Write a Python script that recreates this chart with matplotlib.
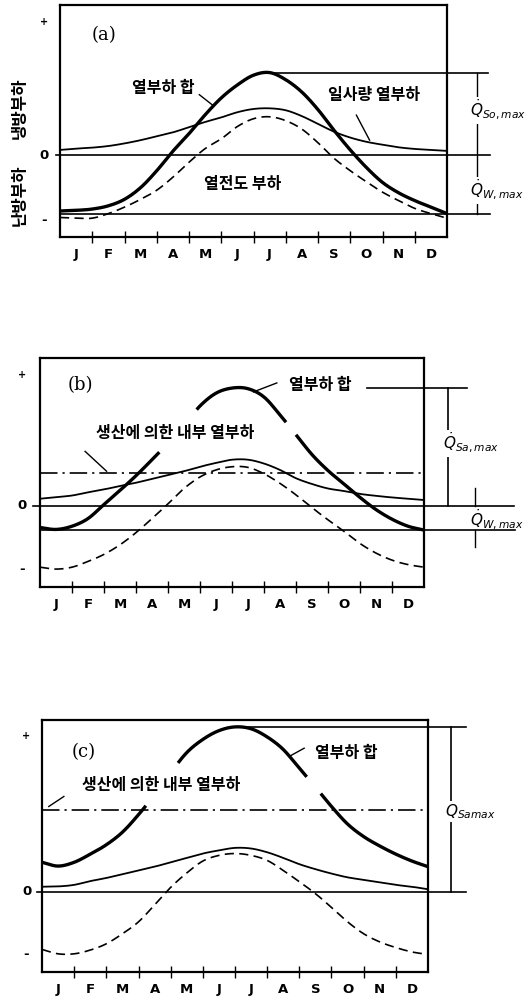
import numpy as np
import matplotlib
matplotlib.use('Agg')
import matplotlib.pyplot as plt

plt.rcParams['font.family'] = ['Noto Sans CJK KR', 'DejaVu Sans']

# ---------------- data (arbitrary load units; month index 0=J ... 11=D) -----
months = ['J', 'F', 'M', 'A', 'M', 'J', 'J', 'A', 'S', 'O', 'N', 'D']
x_pts = [-0.5, 0.0, 0.5, 1.0, 1.5, 2.0, 2.5, 3.0, 3.5, 4.0, 4.5, 5.0, 5.5,
         6.0, 6.5, 7.0, 7.5, 8.0, 8.5, 9.0, 9.5, 10.0, 10.5, 11.0, 11.5]

# panel (a)
a_solar = [0.08, 0.10, 0.115, 0.14, 0.18, 0.23, 0.29, 0.35, 0.43, 0.51, 0.58, 0.66, 0.71,
           0.72, 0.69, 0.60, 0.48, 0.36, 0.27, 0.205, 0.16, 0.12, 0.095, 0.08, 0.065]
a_total = [-0.86, -0.85, -0.83, -0.78, -0.68, -0.50, -0.24, 0.06, 0.33, 0.62, 0.88, 1.08, 1.23,
           1.27, 1.16, 0.97, 0.70, 0.38, 0.08, -0.19, -0.42, -0.58, -0.70, -0.80, -0.90]
a_cond = [-0.96, -0.97, -0.97, -0.90, -0.80, -0.68, -0.54, -0.34, -0.11, 0.10, 0.25, 0.44, 0.56,
          0.59, 0.53, 0.40, 0.19, -0.05, -0.24, -0.41, -0.57, -0.70, -0.82, -0.90, -0.97]
a_heat_max = -0.90

# panel (b)
b_solar = [0.11, 0.135, 0.16, 0.21, 0.255, 0.31, 0.36, 0.42, 0.48, 0.54, 0.61, 0.67, 0.72,
           0.72, 0.66, 0.56, 0.43, 0.34, 0.27, 0.23, 0.185, 0.155, 0.13, 0.11, 0.09]
b_total = [-0.34, -0.37, -0.32, -0.20, 0.02, 0.24, 0.47, 0.72, 0.98, 1.26, 1.56, 1.76, 1.84,
           1.83, 1.70, 1.42, 1.11, 0.80, 0.55, 0.34, 0.13, -0.06, -0.21, -0.32, -0.38]
b_cond = [-0.96, -0.99, -0.96, -0.87, -0.76, -0.61, -0.42, -0.20, 0.03, 0.27, 0.45, 0.56, 0.61,
          0.60, 0.50, 0.35, 0.17, -0.03, -0.22, -0.40, -0.59, -0.74, -0.85, -0.92, -0.96]
b_internal = 0.52
b_heat_max = -0.38

# panel (c)
c_solar = [0.08, 0.085, 0.11, 0.17, 0.22, 0.28, 0.34, 0.40, 0.47, 0.54, 0.61, 0.66, 0.70,
           0.69, 0.63, 0.54, 0.44, 0.36, 0.29, 0.23, 0.19, 0.15, 0.11, 0.08, 0.04]
c_total = [0.47, 0.41, 0.47, 0.60, 0.75, 0.95, 1.23, 1.55, 1.90, 2.22, 2.43, 2.57, 2.63,
           2.60, 2.47, 2.27, 1.97, 1.67, 1.36, 1.08, 0.88, 0.73, 0.60, 0.49, 0.40]
c_cond = [-0.92, -0.99, -0.99, -0.93, -0.83, -0.67, -0.48, -0.21, 0.07, 0.30, 0.49, 0.58, 0.61,
          0.58, 0.50, 0.34, 0.16, -0.03, -0.25, -0.48, -0.67, -0.80, -0.89, -0.96, -1.00]
c_internal = 1.31

W, H = 525, 998
fig = plt.figure(figsize=(W / 100, H / 100), dpi=100)


def rect(l, t, r, b):
    return [l / W, 1 - b / H, (r - l) / W, (b - t) / H]


LW_THICK = 2.4
LW_THIN = 1.3
KFONT = dict(fontsize=11.5, fontweight='bold', color='black')
DASH = (0, (5.5, 3.2))
DASHDOT = (0, (10.5, 3, 1.3, 3))


def smooth(xs, ys, n=24):
    """Draw-time cubic Hermite (Catmull-Rom) curve through the read points."""
    xs = np.asarray(xs, float)
    ys = np.asarray(ys, float)
    m = np.empty_like(ys)
    m[1:-1] = (ys[2:] - ys[:-2]) / (xs[2:] - xs[:-2])
    m[0] = (ys[1] - ys[0]) / (xs[1] - xs[0])
    m[-1] = (ys[-1] - ys[-2]) / (xs[-1] - xs[-2])
    outx, outy = [], []
    for i in range(len(xs) - 1):
        h = xs[i + 1] - xs[i]
        t = np.linspace(0, 1, n, endpoint=(i == len(xs) - 2))
        h00 = 2 * t**3 - 3 * t**2 + 1
        h10 = t**3 - 2 * t**2 + t
        h01 = -2 * t**3 + 3 * t**2
        h11 = t**3 - t**2
        outx.append(xs[i] + t * h)
        outy.append(h00 * ys[i] + h10 * h * m[i] + h01 * ys[i + 1] + h11 * h * m[i + 1])
    return np.concatenate(outx), np.concatenate(outy)


def base_axes(r, ylim, yplus, pad_x):
    ax = fig.add_axes(r)
    ax.set_xlim(-0.5, 11.5)
    ax.set_ylim(*ylim)
    for s in ax.spines.values():
        s.set_linewidth(1.6)
    ax.set_xticks(np.arange(0.5, 11, 1.0))
    ax.set_xticklabels([])
    ax.tick_params(axis='x', which='major', direction='inout', length=8, width=1.0)
    ax.set_xticks(np.arange(0, 12), minor=True)
    ax.set_xticklabels(months, minor=True, fontsize=9.5, fontweight='bold',
                       family='DejaVu Sans')
    ax.tick_params(axis='x', which='minor', length=0, pad=8)
    ax.set_yticks([])
    for yv, lab, fs in [(yplus, '+', 7), (0, '0', 9.5), (-1, '-', 9.5)]:
        ax.text(pad_x, yv, lab, ha='center', va='center', fontsize=fs,
                fontweight='bold', family='DejaVu Sans')
    return ax


def curves(ax, solar, cond, total, gaps=()):
    sx, sy = smooth(x_pts, solar)
    ax.plot(sx, sy, color='black', lw=LW_THIN, zorder=3)
    dx, dy = smooth(x_pts, cond)
    ax.plot(dx, dy, color='black', lw=1.2, linestyle=DASH, zorder=3)
    tx, ty = smooth(x_pts, total)
    ty = ty.copy()
    for g0, g1 in gaps:
        ty[(tx > g0) & (tx < g1)] = np.nan
    ax.plot(tx, ty, color='black', lw=LW_THICK, solid_capstyle='butt', zorder=4)


def line(ax, xs, ys, lw=1.0, **kw):
    ax.plot(xs, ys, color='black', lw=lw, clip_on=False, zorder=3, **kw)


# ---------------- panel (a) ----------------
ax = base_axes(rect(60, 5, 447, 237), (-1.26, 2.31), 2.05, -0.99)
curves(ax, a_solar, a_cond, a_total)
pk = int(np.argmax(a_total))
qso = a_total[pk]
line(ax, [-0.62, 12.83], [0, 0], lw=1.2)
line(ax, [-0.5, 12.83], [a_heat_max, a_heat_max], lw=1.2)
line(ax, [x_pts[pk] - 0.15, 12.76], [qso, qso], lw=1.2)
line(ax, [12.42, 12.42], [qso, a_heat_max], lw=1.0)
ax.text(12.2, 0.69, r'$\dot{Q}_{So,max}$', fontsize=11, ha='left', va='center',
        family='DejaVu Sans', bbox=dict(fc='white', ec='none', pad=1), zorder=5)
ax.text(12.2, -0.54, r'$\dot{Q}_{W,max}$', fontsize=11, ha='left', va='center',
        family='DejaVu Sans', bbox=dict(fc='white', ec='none', pad=1), zorder=5)
ax.text(2.70, 1.03, '열부하 합', ha='center', va='center', **KFONT)
line(ax, [3.82, 4.23], [0.93, 0.77])
ax.text(9.25, 0.92, '일사량 열부하', ha='center', va='center', **KFONT)
line(ax, [8.69, 9.1], [0.615, 0.23])
ax.text(5.17, -0.45, '열전도 부하', ha='center', va='center', **KFONT)
ax.text(0.87, 1.85, '(a)', ha='center', va='center', fontsize=13,
        family='DejaVu Serif')
fig.text(20 / W, 1 - 108 / H, '냉방부하', rotation=90, ha='center', va='center',
         fontsize=12, fontweight='bold')
fig.text(20 / W, 1 - 195 / H, '난방부하', rotation=90, ha='center', va='center',
         fontsize=12, fontweight='bold')

# ---------------- panel (b) ----------------
ax = base_axes(rect(40, 358, 424, 587), (-1.27, 2.31), 2.05, -1.06)
ax.plot([-0.5, 11.5], [b_internal, b_internal], color='black', lw=1.2, linestyle=DASHDOT)
curves(ax, b_solar, b_cond, b_total, [(3.23, 4.38), (7.2, 7.5)])
qsa = max(b_total)
line(ax, [-0.72, 14.3], [0, 0], lw=1.2)
line(ax, [-0.5, 14.35], [b_heat_max, b_heat_max], lw=1.2)
line(ax, [9.71, 12.83], [qsa, qsa], lw=1.2)
line(ax, [12.26, 12.26], [qsa, 0], lw=1.2)
ax.text(12.1, 0.98, r'$\dot{Q}_{Sa,max}$', fontsize=11, ha='left', va='center',
        family='DejaVu Sans', bbox=dict(fc='white', ec='none', pad=1), zorder=5)
line(ax, [13.1, 13.1], [0.27, 0], lw=1.0)
line(ax, [13.1, 13.1], [b_heat_max, -0.64], lw=1.0)
ax.text(12.94, -0.22, r'$\dot{Q}_{W,max}$', fontsize=11, ha='left', va='center',
        family='DejaVu Sans')
ax.text(3.74, 1.135, '생산에 의한 내부 열부하', ha='center', va='center', **KFONT)
line(ax, [0.91, 1.58], [0.85, 0.54])
ax.text(8.25, 1.89, '열부하 합', ha='center', va='center', **KFONT)
line(ax, [6.17, 6.9], [1.78, 1.92])
ax.text(0.75, 1.89, '(b)', ha='center', va='center', fontsize=13,
        family='DejaVu Serif')

# ---------------- panel (c) ----------------
ax = base_axes(rect(42, 720, 428, 972), (-1.28, 2.74), 2.49, -0.98)
ax.plot([-0.5, 11.5], [c_internal, c_internal], color='black', lw=1.2, linestyle=DASHDOT)
curves(ax, c_solar, c_cond, c_total, [(2.73, 3.72), (7.73, 8.15)])
pk = int(np.argmax(c_total))
qsc = c_total[pk]
line(ax, [-0.66, 12.69], [0, 0], lw=1.2)
line(ax, [x_pts[pk], 12.69], [qsc, qsc], lw=1.2)
line(ax, [12.22, 12.22], [qsc, 0], lw=1.2)
ax.text(12.02, 1.28, r'$Q_{Samax}$', fontsize=11, ha='left', va='center',
        family='DejaVu Sans', bbox=dict(fc='white', ec='none', pad=1), zorder=5)
ax.text(3.19, 1.71, '생산에 의한 내부 열부하', ha='center', va='center', **KFONT)
line(ax, [-0.29, 0.18], [1.36, 1.52])
ax.text(8.95, 2.21, '열부하 합', ha='center', va='center', **KFONT)
line(ax, [7.19, 7.65], [2.16, 2.29])
ax.text(0.8, 2.23, '(c)', ha='center', va='center', fontsize=13,
        family='DejaVu Serif')

fig.savefig('out.png', dpi=100)
